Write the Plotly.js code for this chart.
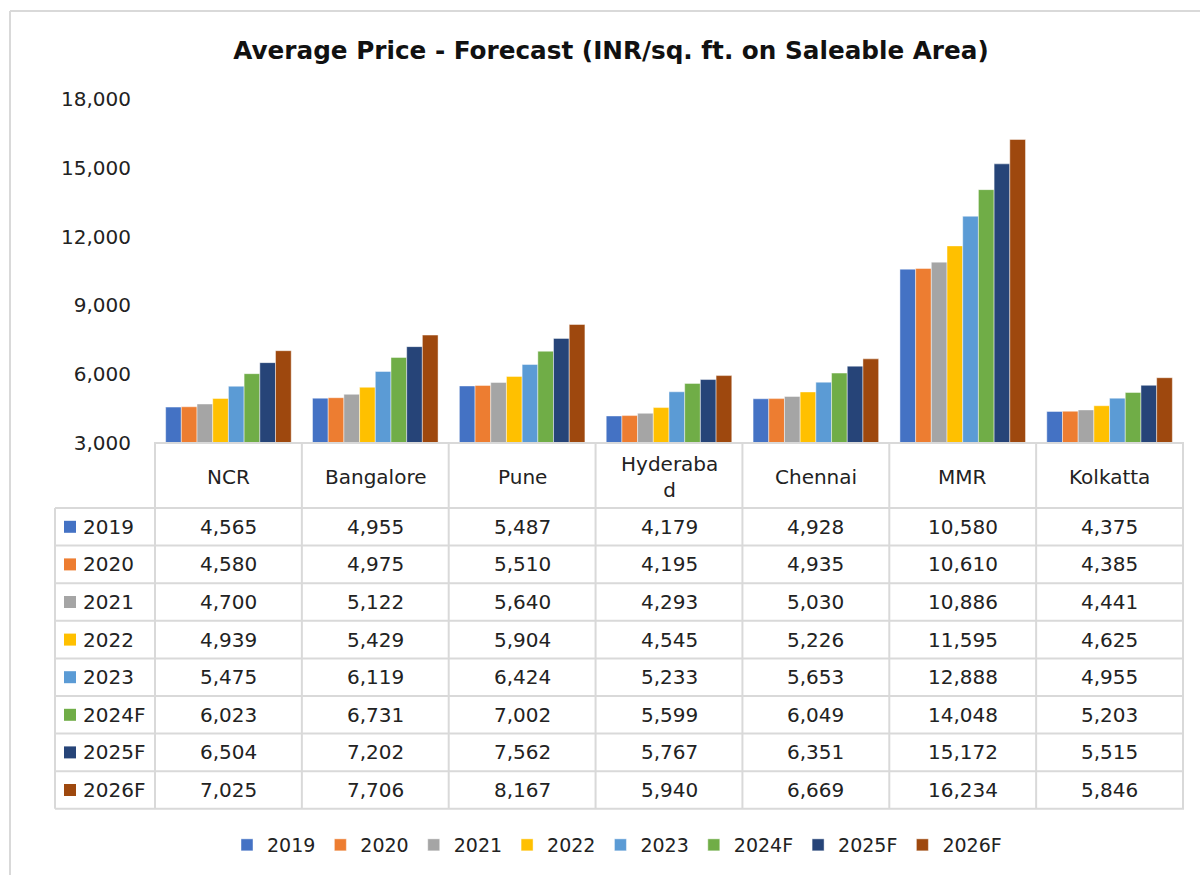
<!DOCTYPE html>
<html>
<head>
<meta charset="utf-8">
<script src="https://cdn.plot.ly/plotly-3.0.1.min.js"></script>
<style>html,body{margin:0;padding:0;background:#fff;}#chart{width:1200px;height:875px;}</style>
</head>
<body>
<div id="chart"></div>
<script>
// ---- data ----
const categories = ["NCR", "Bangalore", "Pune", "Hyderabad", "Chennai", "MMR", "Kolkatta"];
const headerLabels = ["NCR", "Bangalore", "Pune", "Hyderaba<br>d", "Chennai", "MMR", "Kolkatta"];
const seriesNames = ["2019", "2020", "2021", "2022", "2023", "2024F", "2025F", "2026F"];
const v2019  = [4565, 4955, 5487, 4179, 4928, 10580, 4375];
const v2020  = [4580, 4975, 5510, 4195, 4935, 10610, 4385];
const v2021  = [4700, 5122, 5640, 4293, 5030, 10886, 4441];
const v2022  = [4939, 5429, 5904, 4545, 5226, 11595, 4625];
const v2023  = [5475, 6119, 6424, 5233, 5653, 12888, 4955];
const v2024F = [6023, 6731, 7002, 5599, 6049, 14048, 5203];
const v2025F = [6504, 7202, 7562, 5767, 6351, 15172, 5515];
const v2026F = [7025, 7706, 8167, 5940, 6669, 16234, 5846];
const seriesValues = [v2019, v2020, v2021, v2022, v2023, v2024F, v2025F, v2026F];
const colors = ["#4472C4", "#ED7D31", "#A5A5A5", "#FFC000", "#5B9BD5", "#70AD47", "#264478", "#9E480E"];
const yTicks = [3000, 6000, 9000, 12000, 15000, 18000];

// ---- geometry helpers (pixel -> paper) ----
const W = 1200, H = 875;
const L = 154, R = 1184, T = 99, B = 443;
const px = x => (x - L) / (R - L);
const py = y => (B - y) / (B - T);
const FONT = "DejaVu Sans, sans-serif";
const gridCol = "#d9d9d9";

const fmt = n => n.toLocaleString("en-US");

const traces = seriesNames.map((name, i) => ({
  type: "bar",
  name: name,
  x: categories,
  y: seriesValues[i],
  marker: {color: colors[i], line: {color: "rgba(255,255,255,0.6)", width: 0.75}},
  hoverinfo: "x+y+name"
}));

const shapes = [];
const annotations = [];

// outer frame (left + top)
shapes.push({type: "line", xref: "paper", yref: "paper", x0: px(10), x1: px(10), y0: py(11), y1: py(H + 5), line: {color: gridCol, width: 2}, layer: "below"});
shapes.push({type: "line", xref: "paper", yref: "paper", x0: px(10), x1: px(W + 5), y0: py(11), y1: py(11), line: {color: gridCol, width: 2}, layer: "below"});

// table geometry
const headerTop = 443, headerBot = 508, rowH = 37.6;
const nRows = seriesNames.length;
const tableBot = headerBot + rowH * nRows;
const leftX = 55;

// vertical column lines (category boundaries)
for (let k = 0; k <= categories.length; k++) {
  shapes.push({type: "line", xref: "x", yref: "paper", x0: k - 0.5, x1: k - 0.5, y0: py(headerTop), y1: py(tableBot), line: {color: gridCol, width: 2}});
}
shapes.push({type: "line", xref: "paper", yref: "paper", x0: px(leftX), x1: px(leftX), y0: py(headerBot), y1: py(tableBot), line: {color: gridCol, width: 2}});
// horizontal lines
shapes.push({type: "line", xref: "paper", yref: "paper", x0: 0, x1: 1, y0: py(headerTop), y1: py(headerTop), line: {color: gridCol, width: 2}});
for (let r = 0; r <= nRows; r++) {
  const yy = headerBot + r * rowH;
  shapes.push({type: "line", xref: "paper", yref: "paper", x0: px(leftX), x1: 1, y0: py(yy), y1: py(yy), line: {color: gridCol, width: 2}});
}

// header labels
categories.forEach((c, j) => {
  annotations.push({xref: "x", yref: "paper", x: c, y: py((headerTop + headerBot) / 2 + 1), text: headerLabels[j], showarrow: false, font: {family: FONT, size: 20, color: "#222"}, xanchor: "center", yanchor: "middle"});
});

// rows
seriesNames.forEach((s, i) => {
  const yc = headerBot + rowH * (i + 0.5);
  shapes.push({type: "rect", xref: "paper", yref: "paper", x0: px(64), x1: px(76), y0: py(yc - 6), y1: py(yc + 6), fillcolor: colors[i], line: {width: 0}});
  annotations.push({xref: "paper", yref: "paper", x: px(81), y: py(yc), text: s, showarrow: false, font: {family: FONT, size: 20, color: "#222"}, xanchor: "left", yanchor: "middle"});
  categories.forEach((c, j) => {
    annotations.push({xref: "x", yref: "paper", x: c, y: py(yc), text: fmt(seriesValues[i][j]), showarrow: false, font: {family: FONT, size: 20, color: "#222"}, xanchor: "center", yanchor: "middle"});
  });
});

const layout = {
  width: W, height: H,
  margin: {l: L, r: W - R, t: T, b: H - B},
  paper_bgcolor: "#fff", plot_bgcolor: "#fff",
  title: {text: "<b>Average Price - Forecast (INR/sq. ft. on Saleable Area)</b>", font: {family: FONT, size: 24.7, color: "#111"}, x: 611 / W, xanchor: "center", y: 1 - 50 / H, yanchor: "middle"},
  barmode: "group", bargap: 0.145, bargroupgap: 0,
  xaxis: {type: "category", showticklabels: false, showgrid: false, zeroline: false, showline: false, ticks: "", fixedrange: true},
  yaxis: {range: [3000, 18000], tickvals: yTicks, ticktext: yTicks.map(fmt), showgrid: false, zeroline: false, showline: false, ticks: "", ticklabelstandoff: 22, tickfont: {family: FONT, size: 20, color: "#222"}, fixedrange: true},
  showlegend: true,
  legend: {orientation: "h", x: px(617), xanchor: "center", y: py(845), yanchor: "middle", font: {family: FONT, size: 19, color: "#222"}, itemwidth: 30, tracegroupgap: 0, bgcolor: "rgba(0,0,0,0)"},
  shapes: shapes,
  annotations: annotations
};

Plotly.newPlot("chart", traces, layout, {displayModeBar: false, staticPlot: true});
</script>
</body>
</html>
